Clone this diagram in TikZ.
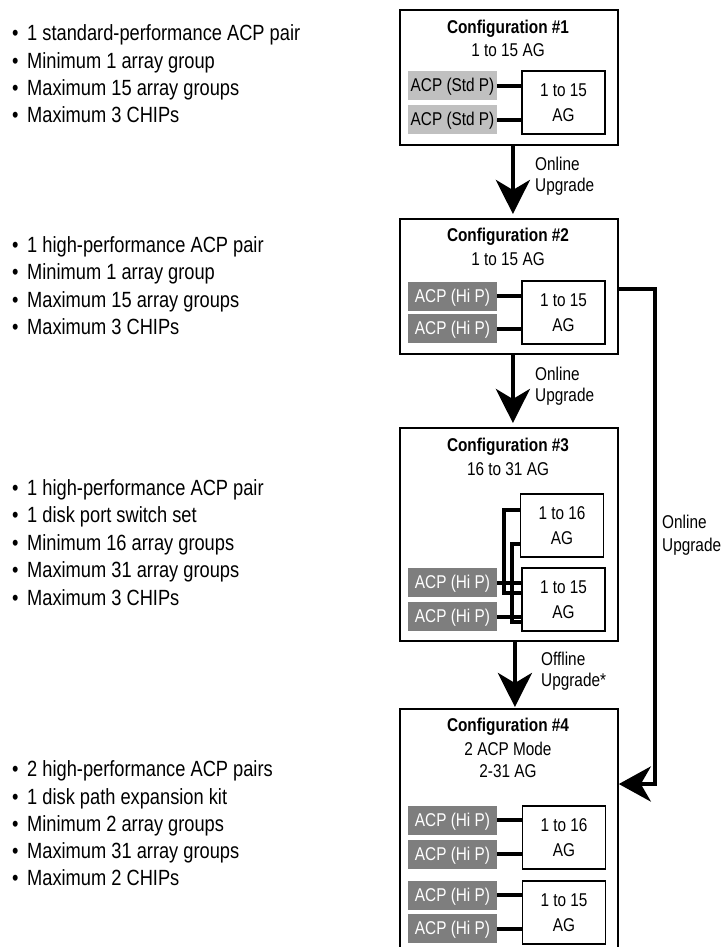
\documentclass[tikz,border=0pt]{standalone}
\usepackage{fontspec}
\setmainfont[FakeStretch=0.83]{Liberation Sans}
\usetikzlibrary{arrows.meta}
\definecolor{stdgray}{RGB}{192,192,192}
\definecolor{higray}{RGB}{126,126,126}
\newcommand{\dfont}{\fontsize{18.5bp}{22bp}\selectfont}
\newcommand{\lfont}{\fontsize{22bp}{27bp}\selectfont}
\newcommand{\bul}{\makebox[15bp][l]{•}}
\begin{document}
\begin{tikzpicture}[x=1bp,y=-1bp,
  cfgbox/.style={draw, line width=1.8bp, anchor=north west, inner sep=0pt, minimum width=218bp},
  ttl/.style={font=\dfont\bfseries, anchor=base, inner sep=0pt},
  sub/.style={font=\dfont, anchor=base, inner sep=0pt},
  lbl/.style={font=\dfont, anchor=base west, inner sep=0pt},
  item/.style={font=\lfont, anchor=base west, inner sep=0pt},
  acpbase/.style={minimum width=89bp, minimum height=29bp, inner sep=0pt,
    text height=12.7bp, text depth=0bp, font=\dfont},
  acpstd/.style={acpbase, fill=stdgray, text=black},
  acphi/.style={acpbase, fill=higray, text=white},
  agbox/.style={draw, line width=1.3bp, minimum width=83bp, minimum height=63bp,
    inner sep=0pt, align=center, font=\fontsize{18.5bp}{25bp}\selectfont},
  link/.style={line width=4bp},
  wire/.style={line width=3.5bp},
  bigarrow/.style={line width=4.5bp, -{Stealth[length=34bp,width=34bp,inset=10bp]}},
  sidearrow/.style={line width=4.5bp, -{Stealth[length=32bp,width=35bp,inset=10bp]}}]
\useasboundingbox (0,0) rectangle (723,947);

% ---------- feature lists ----------
\foreach \t [count=\i] in {1 standard-performance ACP pair, Minimum 1 array group,
    Maximum 15 array groups, Maximum 3 CHIPs}
  \node[item] (fa\i) at (12,{40.7+27.3*(\i-1)}) {\bul\t};
\foreach \t [count=\i] in {1 high-performance ACP pair, Minimum 1 array group,
    Maximum 15 array groups, Maximum 3 CHIPs}
  \node[item] (fb\i) at (12,{252.5+27.4*(\i-1)}) {\bul\t};
\foreach \t [count=\i] in {1 high-performance ACP pair, 1 disk port switch set,
    Minimum 16 array groups, Maximum 31 array groups, Maximum 3 CHIPs}
  \node[item] (fc\i) at (12,{495+27.5*(\i-1)}) {\bul\t};
\foreach \t [count=\i] in {2 high-performance ACP pairs, 1 disk path expansion kit,
    Minimum 2 array groups, Maximum 31 array groups, Maximum 2 CHIPs}
  \node[item] (fd\i) at (12,{776.7+27.3*(\i-1)}) {\bul\t};

% ---------- configuration 1 ----------
\node[cfgbox, minimum height=135bp] (cfg1) at (399,9) {};
\node[ttl] (t1) at (508,33.5) {Configuration \#1};
\node[sub] (s1) at (508,56.5) {1 to 15 AG};
\node[acpstd] (a1a) at (452.5,85.5) {ACP (Std P)};
\node[acpstd] (a1b) at (452.5,119.5) {ACP (Std P)};
\node[agbox] (g1) at (563.5,102.5) {1 to 15\\AG};
\draw[link] (a1a.east) -- (a1a.east -| g1.west);
\draw[link] (a1b.east) -- (a1b.east -| g1.west);

% ---------- configuration 2 ----------
\node[cfgbox, minimum height=135bp] (cfg2) at (399,218) {};
\node[ttl] (t2) at (508,241.7) {Configuration \#2};
\node[sub] (s2) at (508,265) {1 to 15 AG};
\node[acphi] (a2a) at (452.5,296) {ACP (Hi P)};
\node[acphi] (a2b) at (452.5,328.5) {ACP (Hi P)};
\node[agbox] (g2) at (563.5,312.5) {1 to 15\\AG};
\draw[link] (a2a.east) -- (a2a.east -| g2.west);
\draw[link] (a2b.east) -- (a2b.east -| g2.west);

% ---------- configuration 3 ----------
\node[cfgbox, minimum height=213bp] (cfg3) at (399,427) {};
\node[ttl] (t3) at (508,451.7) {Configuration \#3};
\node[sub] (s3) at (508,475) {16 to 31 AG};
\node[agbox] (g3a) at (562,525.5) {1 to 16\\AG};
\node[agbox] (g3b) at (563.5,599.5) {1 to 15\\AG};
\node[acphi] (a3a) at (452.5,582.5) {ACP (Hi P)};
\node[acphi] (a3b) at (452.5,616.5) {ACP (Hi P)};
\coordinate (swA) at (504,593);
\coordinate (swB) at (512,622);
\draw[wire] ([yshift=15.5bp]g3a.west) -| (swA) -- (swA -| g3b.west);
\draw[wire] ([yshift=-18.5bp]g3a.west) -| (swB) -- (swB -| g3b.west);
\draw[link] (a3a.east) -- (a3a.east -| g3b.west);
\draw[link] (a3b.east) -- (a3b.east -| g3b.west);

% ---------- configuration 4 ----------
\node[cfgbox, minimum height=250bp] (cfg4) at (399,708) {};
\node[ttl] (t4) at (508,731.7) {Configuration \#4};
\node[sub] (s4a) at (508,755) {2 ACP Mode};
\node[sub] (s4b) at (508,777.5) {2-31 AG};
\node[acphi] (a4a) at (452.5,820) {ACP (Hi P)};
\node[acphi] (a4b) at (452.5,854) {ACP (Hi P)};
\node[acphi] (a4c) at (452.5,895) {ACP (Hi P)};
\node[acphi] (a4d) at (452.5,928.5) {ACP (Hi P)};
\node[agbox] (g4a) at (564,837.5) {1 to 16\\AG};
\node[agbox] (g4b) at (564,912.5) {1 to 15\\AG};
\draw[link] (a4a.east) -- (a4a.east -| g4a.west);
\draw[link] (a4b.east) -- (a4b.east -| g4a.west);
\draw[link] (a4c.east) -- (a4c.east -| g4b.west);
\draw[link] (a4d.east) -- (a4d.east -| g4b.west);

% ---------- upgrade paths ----------
\draw[bigarrow, shorten >=4bp] ([xshift=4bp]cfg1.south) -- ([xshift=4bp]cfg2.north);
\node[lbl] (u1a) at (535,170) {Online};
\node[lbl] (u1b) at (535,191.7) {Upgrade};

\draw[bigarrow, shorten >=4bp] ([xshift=4bp]cfg2.south) -- ([xshift=4bp]cfg3.north);
\node[lbl] (u2a) at (535,380) {Online};
\node[lbl] (u2b) at (535,401.7) {Upgrade};

\draw[bigarrow, shorten >=1bp] ([xshift=6bp]cfg3.south) -- ([xshift=6bp]cfg4.north);
\node[lbl] (u3a) at (541,665) {Offline};
\node[lbl] (u3b) at (541,686.7) {Upgrade*};

\coordinate (turn) at (655,784);
\draw[sidearrow] ([yshift=-2.5bp]cfg2.east) -| (turn) -- (turn -| cfg4.east);
\node[lbl] (u4a) at (662,528.5) {Online};
\node[lbl] (u4b) at (662,551) {Upgrade};
\end{tikzpicture}
\end{document}
